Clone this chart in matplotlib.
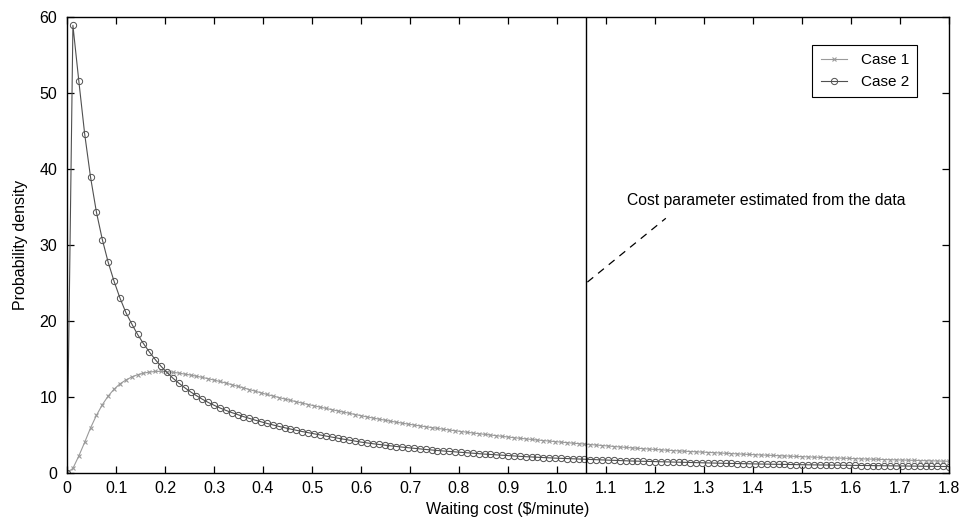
import numpy as np
import matplotlib
matplotlib.use("Agg")
import matplotlib.pyplot as plt

plt.rcParams["font.family"] = ["Liberation Sans", "DejaVu Sans"]

# Sampling grid of the waiting cost ($/minute): 151 points, step 0.012
cost = np.linspace(0.0, 1.8, 151)

case1 = [
    0.0, 0.57, 2.2, 4.0, 5.9, 7.55, 8.95, 10.1, 11.0, 11.7,
    12.2, 12.6, 12.9, 13.1, 13.25, 13.33, 13.35, 13.3, 13.22, 13.12,
    12.98, 12.86, 12.71, 12.55, 12.38, 12.2, 12.01, 11.81, 11.6, 11.39,
    11.17, 10.95, 10.73, 10.52, 10.3, 10.1, 9.9, 9.71, 9.52, 9.34,
    9.16, 8.98, 8.81, 8.64, 8.47, 8.3, 8.14, 7.98, 7.82, 7.66,
    7.5, 7.35, 7.2, 7.06, 6.92, 6.78, 6.65, 6.52, 6.4, 6.28,
    6.16, 6.05, 5.94, 5.83, 5.72, 5.62, 5.52, 5.42, 5.32, 5.23,
    5.14, 5.05, 4.96, 4.87, 4.78, 4.69, 4.61, 4.53, 4.45, 4.38,
    4.3, 4.23, 4.16, 4.09, 4.02, 3.95, 3.89, 3.83, 3.76, 3.7,
    3.64, 3.58, 3.52, 3.45, 3.39, 3.33, 3.27, 3.21, 3.16, 3.11,
    3.06, 3.01, 2.96, 2.91, 2.87, 2.83, 2.78, 2.74, 2.7, 2.66,
    2.62, 2.58, 2.54, 2.51, 2.47, 2.44, 2.4, 2.37, 2.33, 2.3,
    2.27, 2.24, 2.21, 2.17, 2.14, 2.11, 2.08, 2.05, 2.02, 1.99,
    1.96, 1.93, 1.9, 1.88, 1.85, 1.83, 1.8, 1.78, 1.75, 1.73,
    1.71, 1.69, 1.66, 1.64, 1.62, 1.6, 1.58, 1.56, 1.54, 1.52,
    1.5,
]

case2 = [
    0.0, 58.9, 51.6, 44.6, 38.9, 34.3, 30.7, 27.7, 25.2, 23.0,
    21.1, 19.6, 18.2, 17.0, 15.9, 14.9, 14.0, 13.2, 12.45, 11.8,
    11.2, 10.65, 10.15, 9.68, 9.26, 8.88, 8.53, 8.21, 7.92, 7.65,
    7.39, 7.15, 6.92, 6.7, 6.49, 6.29, 6.1, 5.92, 5.75, 5.58,
    5.42, 5.27, 5.12, 4.97, 4.83, 4.69, 4.55, 4.42, 4.29, 4.16,
    4.03, 3.92, 3.82, 3.72, 3.63, 3.54, 3.45, 3.37, 3.29, 3.21,
    3.13, 3.06, 2.99, 2.92, 2.86, 2.8, 2.74, 2.68, 2.62, 2.56,
    2.5, 2.45, 2.4, 2.35, 2.3, 2.25, 2.2, 2.15, 2.11, 2.07,
    2.03, 1.99, 1.95, 1.92, 1.89, 1.85, 1.82, 1.79, 1.76, 1.73,
    1.7, 1.67, 1.64, 1.62, 1.59, 1.57, 1.54, 1.52, 1.5, 1.47,
    1.45, 1.43, 1.41, 1.39, 1.37, 1.35, 1.33, 1.31, 1.3, 1.28,
    1.26, 1.25, 1.23, 1.22, 1.2, 1.19, 1.17, 1.16, 1.14, 1.13,
    1.12, 1.1, 1.09, 1.08, 1.06, 1.05, 1.04, 1.03, 1.02, 1.01,
    0.99, 0.98, 0.97, 0.96, 0.95, 0.94, 0.93, 0.92, 0.91, 0.9,
    0.89, 0.89, 0.88, 0.87, 0.86, 0.85, 0.84, 0.83, 0.82, 0.82,
    0.81,
]

estimated_cost = 1.06
x_ticks = [round(0.1 * k, 1) for k in range(19)]
x_tick_labels = ["0"] + [f"{t:.1f}" for t in x_ticks[1:]]
y_ticks = [0, 10, 20, 30, 40, 50, 60]

fig = plt.figure(figsize=(9.59, 5.19), dpi=100)
ax = fig.add_axes([0.0699, 0.0892, 0.9197, 0.878])

ax.plot(cost, case1, color="#9a9a9a", linewidth=0.8, marker="x",
        markersize=3.2, markeredgewidth=0.8, label="Case 1")
ax.plot(cost, case2, color="#505050", linewidth=0.8, marker="o",
        markersize=4.5, markerfacecolor="none", markeredgewidth=0.7,
        label="Case 2")

# estimated cost marker and annotation
ax.axvline(estimated_cost, color="black", linewidth=1.0)
ax.plot([1.062, 1.222], [25.1, 33.5], color="black", linewidth=0.9,
        linestyle=(0, (6, 5)))
ax.text(1.142, 35.9, "Cost parameter estimated from the data",
        fontsize=11.3, va="center", ha="left")

ax.set_xlim(0, 1.8)
ax.set_ylim(0, 60)
ax.set_xticks(x_ticks)
ax.set_xticklabels(x_tick_labels)
ax.set_yticks(y_ticks)
ax.tick_params(direction="in", length=5, width=0.9, labelsize=11.5,
               top=True, right=True)
ax.tick_params(axis="x", pad=6)
ax.tick_params(axis="y", pad=7)
for s in ax.spines.values():
    s.set_linewidth(1.0)

ax.set_xlabel("Waiting cost ($/minute)", fontsize=11.5, labelpad=4)
ax.set_ylabel("Probability density", fontsize=11.5, labelpad=8)

leg = ax.legend(loc="upper right", bbox_to_anchor=(0.964, 0.939),
                borderaxespad=0, fontsize=11, numpoints=1,
                handlelength=1.7, handletextpad=0.9, fancybox=False,
                framealpha=1, edgecolor="black", borderpad=0.55,
                labelspacing=0.5)
leg.get_frame().set_linewidth(0.8)

fig.savefig("out.png", dpi=100)
